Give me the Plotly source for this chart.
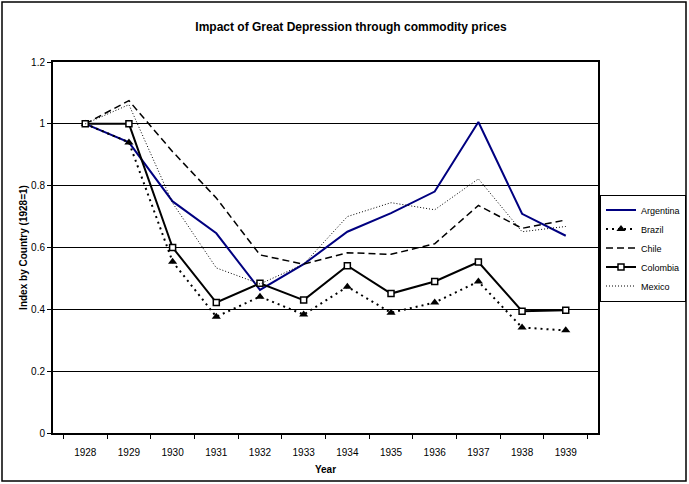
import plotly.graph_objects as go

years = ['1928', '1929', '1930', '1931', '1932', '1933', '1934', '1935', '1936', '1937', '1938', '1939']

argentina = [1.0, 0.94, 0.749, 0.646, 0.463, 0.546, 0.651, 0.711, 0.781, 1.006, 0.709, 0.638]
brazil = [1.0, 0.94, 0.554, 0.376, 0.441, 0.383, 0.473, 0.389, 0.422, 0.49, 0.341, 0.332]
chile = [1.0, 1.075, 0.91, 0.76, 0.576, 0.546, 0.583, 0.578, 0.612, 0.736, 0.662, 0.689]
colombia = [1.0, 1.0, 0.60, 0.422, 0.484, 0.430, 0.541, 0.451, 0.49, 0.553, 0.394, 0.397]
mexico = [1.0, 1.062, 0.744, 0.534, 0.482, 0.546, 0.70, 0.745, 0.722, 0.822, 0.651, 0.668]

W, H = 689, 484
L, R, T, B = 53, 91, 62, 51
pw, ph = W - L - R, H - T - B

FONT = 'Liberation Sans, Arial, sans-serif'

fig = go.Figure()

fig.add_trace(go.Scatter(x=years, y=argentina, name='Argentina', mode='lines',
                         line=dict(color='#000080', width=2)))
fig.add_trace(go.Scatter(x=years, y=brazil, name='Brazil', mode='lines+markers',
                         line=dict(color='black', width=2, dash='2px,4px'),
                         marker=dict(symbol='triangle-up', size=8, color='black')))
fig.add_trace(go.Scatter(x=years, y=chile, name='Chile', mode='lines',
                         line=dict(color='black', width=1.5, dash='7px,4px')))
fig.add_trace(go.Scatter(x=years, y=colombia, name='Colombia', mode='lines+markers',
                         line=dict(color='black', width=2),
                         marker=dict(symbol='square', size=6, color='white',
                                     line=dict(color='black', width=1.5))))
fig.add_trace(go.Scatter(x=years, y=mexico, name='Mexico', mode='lines',
                         line=dict(color='black', width=1, dash='1px,2px')))

# outer chart frame
fig.add_shape(type='rect', xref='paper', yref='paper',
              x0=(2 - L) / pw, x1=(686 - L) / pw,
              y0=(ph + T - 481) / ph, y1=(ph + T - 2) / ph,
              line=dict(color='black', width=1.5), fillcolor='rgba(0,0,0,0)')

fig.update_layout(
    width=W, height=H,
    margin=dict(l=L, r=R, t=T, b=B, autoexpand=False),
    paper_bgcolor='white', plot_bgcolor='white',
    font=dict(family=FONT, size=10, color='black'),
    title=dict(text='<b>Impact of Great Depression through commodity prices</b>',
               x=351 / W, xanchor='center', y=1 - 27 / H, yanchor='middle',
               font=dict(size=12)),
    legend=dict(x=(686 - L) / pw, y=(ph + T - 248) / ph, xanchor='right', yanchor='middle',
                bordercolor='black', borderwidth=1, bgcolor='white',
                font=dict(size=9), itemwidth=30, tracegroupgap=0),
    showlegend=True,
)

fig.update_xaxes(
    type='category', tickson='boundaries', ticks='outside', ticklen=4,
    tickcolor='black', showline=True, linecolor='black', linewidth=2, mirror=True,
    showgrid=False, ticklabelstandoff=9,
    title=dict(text='<b>Year</b>', font=dict(size=10), standoff=9),
)
fig.update_yaxes(
    range=[0, 1.2], dtick=0.2, ticks='outside', ticklen=4, tickcolor='black',
    showline=True, linecolor='black', linewidth=2, mirror=True,
    showgrid=True, gridcolor='black', gridwidth=1, zeroline=False,
    tickformat='~g',
    title=dict(text='<b>Index by Country (1928=1)</b>', font=dict(size=10), standoff=2),
)

fig.write_html('out.html', config={'displayModeBar': False},
               post_script="document.body.style.margin='0';")
